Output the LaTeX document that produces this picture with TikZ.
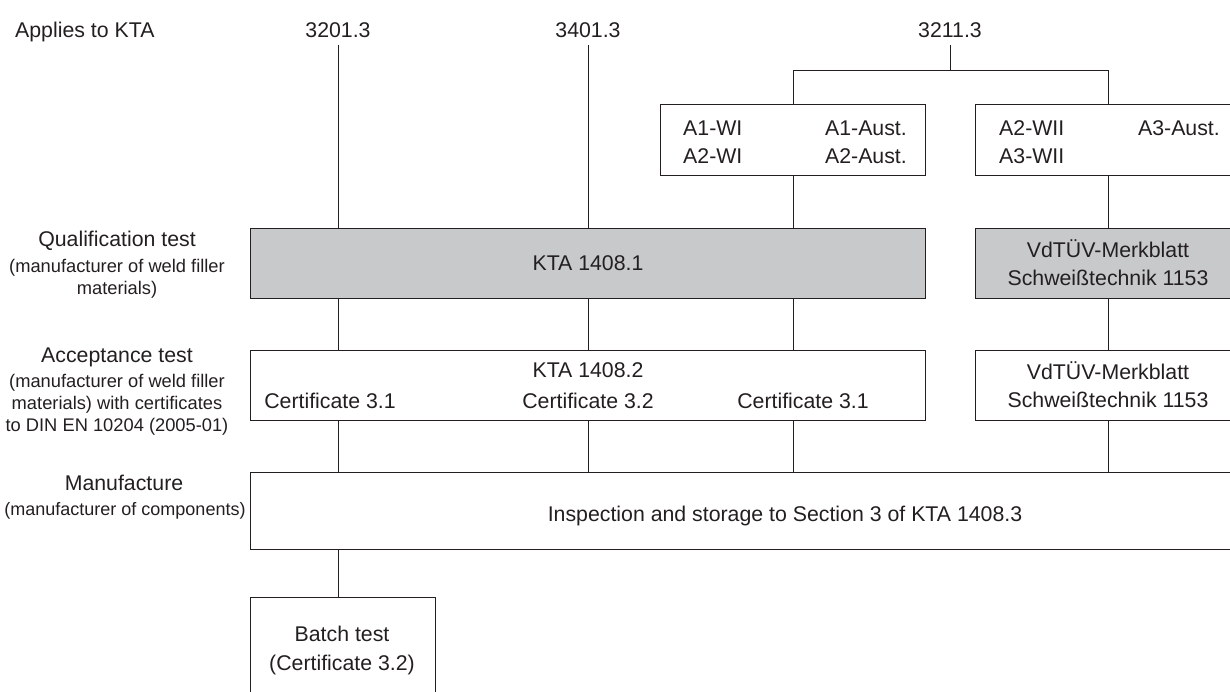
\documentclass[tikz,border=0pt]{standalone}
\usepackage{fontspec}
\setmainfont{Liberation Sans}
\newcommand\fsmain{\fontsize{21.3}{28}\selectfont}
\newcommand\fssmall{\fontsize{18.3}{22}\selectfont}
\newcommand\fssmaller{\fontsize{18}{22}\selectfont}
\definecolor{qgray}{RGB}{200,201,203}
\definecolor{ink}{RGB}{35,31,32}
\begin{document}
\begin{tikzpicture}[x=1pt,y=-1pt,
  every node/.style={font=\fsmain, text=ink, inner sep=0pt},
  box/.style={draw=ink, line width=0.95pt, anchor=north west},
  qbox/.style={box, fill=qgray},
  link/.style={draw=ink, line width=0.95pt},
  txt/.style={anchor=base},
  stxt/.style={anchor=base, font=\fssmall}]
\useasboundingbox (0,0) rectangle (1230,691);
\clip (0,0) rectangle (1230,691);

% top labels
\node[txt, anchor=base west] (apl) at (15,37) {Applies to KTA};
\node[txt] (l3201) at (338,37) {3201.3};
\node[txt] (l3401) at (588,37) {3401.3};
\node[txt] (l3211) at (950,37) {3211.3};

% group boxes
\node[box, minimum width=265pt, minimum height=71pt] (a1) at (660,104) {};
\node[box, minimum width=266pt, minimum height=71pt] (a2) at (975,104) {};
\node[txt, anchor=base west] (a1wi) at (683,135) {A1-WI};
\node[txt, anchor=base west] (a2wi) at (683,163) {A2-WI};
\node[txt, anchor=base east] (a1au) at (907,135) {A1-Aust.};
\node[txt, anchor=base east] (a2au) at (907,163) {A2-Aust.};
\node[txt, anchor=base west] (a2wii) at (999,135) {A2-WII};
\node[txt, anchor=base west] (a3wii) at (999,163) {A3-WII};
\node[txt, anchor=base east] (a3au) at (1220,135) {A3-Aust.};

% qualification
\node[qbox, minimum width=675pt, minimum height=70pt] (q1) at (250,228) {};
\node[qbox, minimum width=266pt, minimum height=70pt] (q2) at (975,228) {};
\node[txt] (q1t) at (588,270) {KTA 1408.1};
\node[txt] (q2t1) at (1108,257) {VdTÜV-Merkblatt};
\node[txt] (q2t2) at (1108,285) {Schweißtechnik 1153};

% acceptance
\node[box, minimum width=675pt, minimum height=70pt] (c1) at (250,350) {};
\node[box, minimum width=266pt, minimum height=70pt] (c2) at (975,350) {};
\node[txt] (c1t) at (588,377) {KTA 1408.2};
\node[txt] (cert1) at (330,408) {Certificate 3.1};
\node[txt] (cert2) at (588,408) {Certificate 3.2};
\node[txt] (cert3) at (803,408) {Certificate 3.1};
\node[txt] (c2t1) at (1108,379) {VdTÜV-Merkblatt};
\node[txt] (c2t2) at (1108,407) {Schweißtechnik 1153};

% manufacture
\node[box, minimum width=991pt, minimum height=77pt] (mf) at (250,472) {};
\node[txt] (mft) at (785,521) {Inspection and storage to Section 3 of KTA 1408.3};

% batch
\node[box, minimum width=185pt, minimum height=110pt] (bt) at (250,597) {};
\node[txt] (bt1) at (342,641) {Batch test};
\node[txt] (bt2) at (342,670) {(Certificate 3.2)};

% left labels
\node[txt] (lq1) at (117,246) {Qualification test};
\node[stxt] (lq2) at (117,272) {(manufacturer of weld filler};
\node[stxt] (lq3) at (117,294) {materials)};
\node[txt] (la1) at (117,362) {Acceptance test};
\node[stxt] (la2) at (117,387) {(manufacturer of weld filler};
\node[stxt] (la3) at (117,409) {materials) with certificates};
\node[stxt] (la4) at (117,431) {to DIN EN 10204 (2005-01)};
\node[txt] (lm1) at (124,490) {Manufacture};
\node[stxt, font=\fssmaller] (lm2) at (125,515) {(manufacturer of components)};

% connectors
\coordinate (br) at (950,70);
\coordinate (brl) at (a1.north |- br);
\coordinate (brr) at (a2.north |- br);
\coordinate (t3201) at (338,45);
\coordinate (t3401) at (588,45);
\coordinate (t3211) at (950,45);
\draw[link] (t3201) -- (q1.north -| t3201);
\draw[link] (t3401) -- (q1.north -| t3401);
\draw[link] (t3211) -- (br);
\draw[link] (a1.north) -- (brl) -- (brr) -- (a2.north);
\draw[link] (a1.south) -- (q1.north -| a1.south);
\draw[link] (a2.south) -- (q2.north);

\draw[link] (q1.south -| t3201) -- (c1.north -| t3201);
\draw[link] (q1.south -| t3401) -- (c1.north -| t3401);
\draw[link] (q1.south -| a1.south) -- (c1.north -| a1.south);
\draw[link] (q2.south) -- (c2.north);

\draw[link] (c1.south -| t3201) -- (mf.north -| t3201);
\draw[link] (c1.south -| t3401) -- (mf.north -| t3401);
\draw[link] (c1.south -| a1.south) -- (mf.north -| a1.south);
\draw[link] (c2.south) -- (mf.north -| c2.south);

\draw[link] (mf.south -| t3201) -- (bt.north -| t3201);
\end{tikzpicture}
\end{document}
